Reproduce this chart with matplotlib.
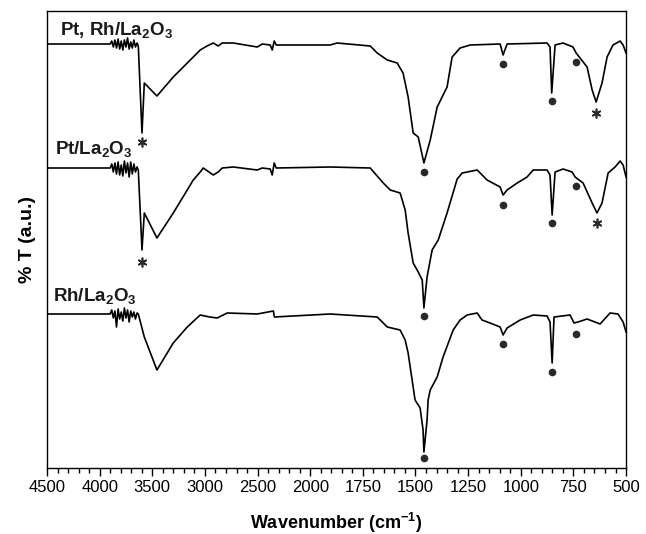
import numpy as np
import matplotlib
matplotlib.use('Agg')
import matplotlib.pyplot as plt
from matplotlib.ticker import FixedLocator, NullLocator

plt.rcParams['font.family'] = ['Liberation Sans', 'DejaVu Sans']
plt.rcParams['mathtext.fontset'] = 'custom'
plt.rcParams['mathtext.rm'] = 'Liberation Sans'
plt.rcParams['mathtext.bf'] = 'Liberation Sans:bold'

# spectra: wavenumber (cm-1) and %T (a.u., offset already included)
wn_ptrh = [4500, 3900, 3885, 3870, 3855, 3840, 3825, 3810, 3795, 3780, 3765, 3750, 3735,
           3720, 3705, 3690, 3675, 3660, 3645, 3633, 3598, 3576, 3456, 3301, 3168, 3045,
           2980, 2921, 2874, 2836, 2731, 2503, 2456, 2380, 2361, 2342, 2323, 1905, 1872,
           1715, 1682, 1634, 1587, 1559, 1535, 1511, 1487, 1460, 1430, 1397, 1350, 1326,
           1288, 1240, 1098, 1084, 1065, 875, 861, 853, 837, 799, 752, 737, 685, 661, 642,
           614, 590, 562, 528, 514, 500]
t_ptrh = [424, 424, 427, 421, 428, 420, 429, 419, 427, 418, 428, 421, 430,
          419, 426, 420, 428, 421, 425, 422, 335, 385, 372, 391, 405, 418,
          422, 425, 422, 425, 425, 421, 424, 423, 418, 427, 423, 423, 425,
          422, 415, 408, 405, 395, 371, 335, 331, 305, 328, 361, 381, 411,
          420, 423, 424, 413, 424, 425, 421, 375, 423, 425, 421, 415, 401, 378, 366,
          385, 411, 423, 427, 423, 415]

wn_pt = [4500, 3900, 3885, 3870, 3855, 3840, 3825, 3810, 3795, 3780, 3765, 3750, 3735,
         3720, 3705, 3690, 3675, 3660, 3645, 3633, 3598, 3576, 3456, 3301, 3168, 3111,
         3045, 3016, 2921, 2874, 2836, 2731, 2503, 2456, 2380, 2361, 2342, 2323, 1905,
         1715, 1653, 1620, 1573, 1549, 1535, 1511, 1487, 1468, 1460, 1445, 1421, 1392,
         1350, 1302, 1278, 1207, 1160, 1098, 1084, 1065, 1017, 970, 941, 875, 861, 851,
         837, 799, 756, 742, 704, 661, 638, 614, 585, 552, 528, 514, 500]
t_pt = [300, 300, 304, 296, 305, 294, 306, 293, 303, 292, 307, 295, 305,
        291, 306, 294, 304, 296, 301, 298, 218, 255, 230, 255, 278, 288,
        296, 300, 293, 296, 300, 301, 298, 300, 299, 293, 305, 300, 301,
        300, 285, 278, 275, 258, 235, 205, 196, 188, 160, 191, 218, 228,
        255, 289, 295, 298, 288, 281, 273, 278, 285, 291, 298, 298, 293, 253,
        296, 299, 296, 291, 285, 265, 255, 265, 295, 301, 307, 303, 291]

wn_rh = [4500, 3900, 3885, 3870, 3855, 3840, 3825, 3810, 3795, 3780, 3765, 3750, 3735,
         3720, 3705, 3690, 3675, 3660, 3645, 3633, 3576, 3456, 3301, 3168, 3045, 2955,
         2883, 2789, 2503, 2350, 2340, 1905, 1682, 1634, 1573, 1549, 1535, 1516, 1502,
         1478, 1464, 1460, 1445, 1440, 1430, 1397, 1369, 1321, 1288, 1255, 1207, 1184,
         1146, 1098, 1084, 1065, 1003, 941, 875, 861, 851, 842, 766, 747, 728, 685, 623,
         576, 538, 514, 500]
t_rh = [154, 154, 158, 150, 157, 141, 159, 149, 156, 147, 160, 150, 158,
        146, 157, 151, 156, 149, 155, 154, 131, 98, 125, 141, 153, 151,
        150, 155, 154, 157, 151, 154, 151, 141, 138, 128, 115, 88, 68,
        60, 38, 16, 48, 68, 78, 91, 111, 138, 148, 153, 155, 148,
        145, 141, 133, 140, 148, 153, 152, 146, 105, 151, 153, 145, 146, 149, 144,
        155, 154, 146, 136]

# band markers
dot_wn = [1460, 1084, 853, 740, 1460, 1084, 851, 737, 1460, 1084, 851, 737]
dot_t = [296, 404, 367, 406, 152, 263, 245, 282, 10, 124, 96, 134]
star_wn = [3598, 643, 3598, 638]
star_t = [326, 355, 206, 245]

labels = ['Pt, Rh/La$_\\mathbf{2}$O$_\\mathbf{3}$', 'Pt/La$_\\mathbf{2}$O$_\\mathbf{3}$',
          'Rh/La$_\\mathbf{2}$O$_\\mathbf{3}$']
label_pos = [(0.022, 0.947), (0.014, 0.685), (0.010, 0.363)]

major_ticks = [4500, 4000, 3500, 3000, 2500, 2000, 1750, 1500, 1250, 1000, 750, 500]


def fwd(w):
    w = np.asarray(w, dtype=float)
    return np.where(w > 2000, 8 + (w - 2000) / 500.0, w / 250.0)


def inv(u):
    u = np.asarray(u, dtype=float)
    return np.where(u > 8, 2000 + (u - 8) * 500.0, u * 250.0)


fig = plt.figure(figsize=(6.46, 5.34), dpi=100)
ax = fig.add_axes([0.0728, 0.1236, 0.8963, 0.8558])
ax.set_xscale('function', functions=(fwd, inv))

for wn, t in [(wn_ptrh, t_ptrh), (wn_pt, t_pt), (wn_rh, t_rh)]:
    ax.plot(wn, t, color='black', lw=1.2)

ax.plot(dot_wn, dot_t, linestyle='none', marker='o', ms=4.5, color='#2a2a2a')
ax.plot(star_wn, star_t, linestyle='none', marker=(6, 2, 0), ms=7, mew=1.2, color='#2a2a2a')

for lab, (lx, ly) in zip(labels, label_pos):
    ax.text(lx, ly, lab, transform=ax.transAxes, fontsize=13.5, fontweight='bold',
            ha='left', va='baseline', color='#1a1a1a')

ax.set_xlim(4500, 500)
ax.set_ylim(0, 457)

minor = []
for a, b in zip(major_ticks[:-1], major_ticks[1:]):
    step = (a - b) / 5.0
    minor += [a - step * i for i in range(1, 5)]
ax.xaxis.set_major_locator(FixedLocator(major_ticks))
ax.xaxis.set_minor_locator(FixedLocator(minor))
ax.set_xticklabels([str(v) for v in major_ticks])
ax.yaxis.set_major_locator(NullLocator())
ax.yaxis.set_minor_locator(NullLocator())

ax.tick_params(axis='x', which='major', direction='out', length=6, width=1, labelsize=12, pad=3)
ax.tick_params(axis='x', which='minor', direction='out', length=3.5, width=1)
for sp in ax.spines.values():
    sp.set_linewidth(1)

ax.set_xlabel('Wavenumber (cm$^{\\mathbf{-1}}$)', fontsize=13, fontweight='bold', labelpad=11)
ax.set_ylabel('% T (a.u.)', fontsize=14, fontweight='bold', labelpad=8)

fig.savefig('out.png', dpi=100)
